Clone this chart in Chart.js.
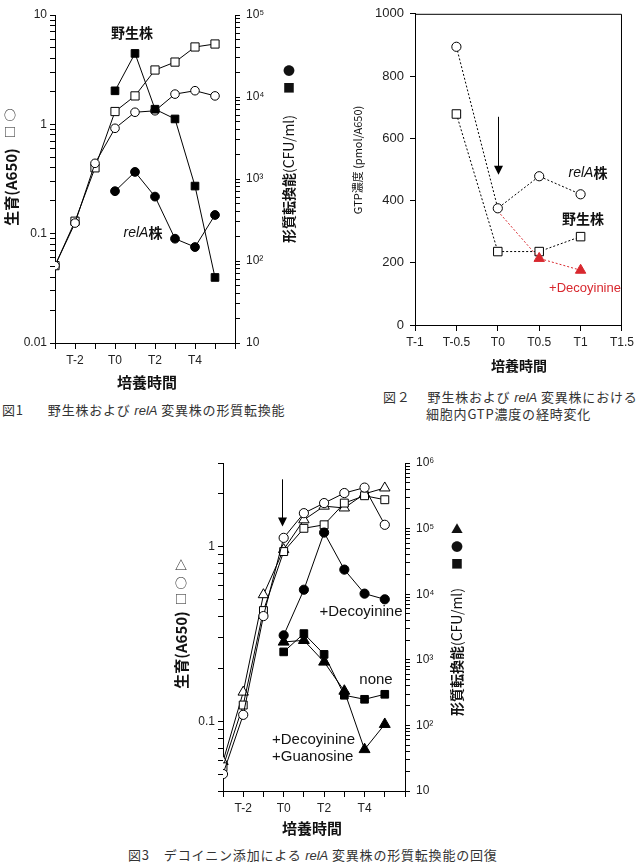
<!DOCTYPE html>
<html>
<head>
<meta charset="utf-8">
<script src="https://cdn.jsdelivr.net/npm/chart.js@4.4.1/dist/chart.umd.min.js"></script>
<style>
  body { margin: 0; background: #fff; width: 638px; height: 864px; position: relative; overflow: hidden; }
  canvas { position: absolute; }
  .cap { position: absolute; font-family: "Noto Sans CJK JP", sans-serif; font-size: 13px; line-height: 16px;
         color: #333; white-space: nowrap; letter-spacing: 0.8px; }
  .cap i { font-family: "Liberation Sans", sans-serif; letter-spacing: 0; }
</style>
</head>
<body>
<canvas id="fig1" width="310" height="395" style="left:0;top:0"></canvas>
<canvas id="fig2" width="298" height="380" style="left:340px;top:0"></canvas>
<canvas id="fig3" width="330" height="405" style="left:150px;top:440px"></canvas>

<div class="cap" style="left:2px;top:402px">図1<span style="margin-left:24px">野生株および <i>relA</i> 変異株の形質転換能</span></div>
<div class="cap" style="left:383px;top:389px">図２<span style="margin-left:17px">野生株および <i>relA</i> 変異株における</span></div>
<div class="cap" style="left:426px;top:406px">細胞内GTP濃度の経時変化</div>
<div class="cap" style="left:128px;top:847px">図3<span style="margin-left:14px">デコイニン添加による <i>relA</i> 変異株の形質転換能の回復</span></div>

<script>
// ---- 図1 : 野生株 / relA株 ----
const hours1 = [-3, -2, -1, 0, 1, 2, 3, 4, 5];
const wtGrowth1 = [0.051, 0.13, 0.40, 1.31, 1.82, 3.14, 3.71, 5.1, 5.43];      // □
const relaGrowth1 = [0.051, 0.125, 0.44, 0.92, 1.29, 1.33, 1.89, 2.03, 1.82];  // ○
const wtTrans1 = [null, null, null, 11900, 34000, 7100, 5400, 820, 63];        // ■
const relaTrans1 = [null, null, null, 710, 1220, 610, 187, 148, 364];          // ●

// ---- 図2 : GTP濃度 ----
const hours2 = [-0.5, 0, 0.5, 1];
const relaGTP = [894, 375, 478, 420];      // ○
const wtGTP = [678, 236, 236, 284];        // □
const decoyGTP = [null, 366, 214, 176];    // ▲ +Decoyinine

// ---- 図3 : デコイニン添加 ----
const hours3 = [-3, -2, -1, 0, 1, 2, 3, 4, 5];
const growthCircle3 = [0.050, 0.109, 0.40, 1.12, 1.55, 1.77, 2.02, 2.17, 1.33];
const growthSquare3 = [0.055, 0.124, 0.43, 0.935, 1.27, 1.33, 1.77, 1.95, 1.85];
const growthTriangle3 = [0.059, 0.147, 0.53, 0.96, 1.42, 1.70, 1.66, 2.0, 2.16];
const transDecoy3 = [null, null, null, 2360, 11700, 87000, 23700, 10200, 8360];   // ●
const transNone3 = [null, null, null, 1320, 2510, 1210, 288, 250, 298];           // ■
const transDecoyGuo3 = [null, null, null, 1870, 1980, 927, 334, 43, 104];         // ▲

// ---- tick labels ----
const timeTicks = [-3, -2, -1, 0, 1, 2, 3, 4, 5, 6];
const timeTickLabels = ['', 'T-2', '', 'T0', '', 'T2', '', 'T4', '', ''];
const timeTicks2 = [-1, -0.5, 0, 0.5, 1, 1.5];
const timeTickLabels2 = ['T-1', 'T-0.5', 'T0', 'T0.5', 'T1', 'T1.5'];
const gtpTicks = [0, 200, 400, 600, 800, 1000];
const growthTicks1 = [0.01, 0.1, 1, 10];
const growthTickLabels1 = ['0.01', '0.1', '1', '10'];
const transTicks1 = [10, 100, 1000, 10000, 100000];
const transTickLabels1 = ['10', '10²', '10³', '10⁴', '10⁵'];
const growthTicks3 = [0.1, 1];
const growthTickLabels3 = ['0.1', '1'];
const transTicks3 = [10, 100, 1000, 10000, 100000, 1000000];
const transTickLabels3 = ['10', '10²', '10³', '10⁴', '10⁵', '10⁶'];

const LAT = '"Liberation Sans", "DejaVu Sans", sans-serif';
const JP = '"Noto Sans CJK JP", sans-serif';
const RED = '#d8282e';

// 1..9 x 10^k minor ticks for a log axis
function decadeTicks(lo, hi) {
  const out = [];
  for (let e = Math.floor(Math.log10(lo)); e <= Math.ceil(Math.log10(hi)); e++) {
    for (let m = 1; m < 10; m++) {
      const v = +(m * Math.pow(10, e)).toPrecision(3);
      if (v >= lo * 0.999 && v <= hi * 1.001) out.push(v);
    }
  }
  return out;
}

function pickLabel(v, ticks, labels) {
  const i = ticks.findIndex(t => Math.abs(Math.log10(t) - Math.log10(v)) < 1e-6);
  return i < 0 ? '' : labels[i];
}

function pts(xs, ys) {
  return xs.map((x, i) => ({ x: x, y: ys[i] }));
}

// texts, arrows and frame drawn on top of the chart
const notesPlugin = {
  id: 'notes',
  afterDraw(chart, args, opts) {
    const ctx = chart.ctx;
    (opts.items || []).forEach(n => {
      const parts = n.parts || [[n.text, n.font]];
      ctx.save();
      ctx.translate(n.x, n.y);
      if (n.rot) ctx.rotate(n.rot * Math.PI / 180);
      ctx.fillStyle = n.color || '#111';
      ctx.textBaseline = 'middle';
      ctx.textAlign = 'left';
      let w = 0;
      parts.forEach(p => { ctx.font = p[1]; w += ctx.measureText(p[0]).width; });
      let x = n.align === 'left' ? 0 : -w / 2;
      parts.forEach(p => { ctx.font = p[1]; ctx.fillText(p[0], x, 0); x += ctx.measureText(p[0]).width; });
      ctx.restore();
    });
    (opts.arrows || []).forEach(a => {
      const x = Math.round(chart.scales.x.getPixelForValue(a.x)) + 0.5;
      const y1 = chart.scales[a.axis].getPixelForValue(a.from);
      const y2 = chart.scales[a.axis].getPixelForValue(a.to);
      ctx.save();
      ctx.strokeStyle = ctx.fillStyle = '#000';
      ctx.lineWidth = 1;
      ctx.beginPath(); ctx.moveTo(x, y1); ctx.lineTo(x, y2 - 6); ctx.stroke();
      ctx.beginPath(); ctx.moveTo(x - 4.5, y2 - 9); ctx.lineTo(x + 4.5, y2 - 9); ctx.lineTo(x, y2); ctx.closePath(); ctx.fill();
      ctx.restore();
    });
    if (opts.box) {
      const a = chart.chartArea;
      ctx.save();
      ctx.strokeStyle = '#000';
      ctx.lineWidth = 1;
      ctx.beginPath();
      ctx.moveTo(a.left, a.top + 0.5); ctx.lineTo(a.right - 0.5, a.top + 0.5); ctx.lineTo(a.right - 0.5, a.bottom);
      ctx.stroke();
      ctx.restore();
    }
  }
};
Chart.register(notesPlugin);

const tickFont = { family: LAT, size: 12 };
const axisGrid = { drawOnChartArea: false, tickLength: 5, color: '#000', lineWidth: 1 };

function timeAxis(ticks, labels, min, max, height) {
  return {
    type: 'linear', min: min, max: max,
    afterFit: s => { s.height = height; },
    afterBuildTicks: s => { s.ticks = ticks.map(v => ({ value: v })); },
    ticks: { autoSkip: false, maxRotation: 0, font: tickFont, color: '#222', padding: 4,
             callback: v => labels[ticks.indexOf(v)] },
    grid: { drawOnChartArea: false, tickLength: 6, color: '#000' },
    border: { color: '#000' }
  };
}

function logAxis(pos, min, max, ticks, labels, width) {
  return {
    type: 'logarithmic', position: pos, min: min, max: max,
    afterFit: s => { s.width = width; },
    afterBuildTicks: s => { s.ticks = decadeTicks(min, max).map(v => ({ value: v })); },
    ticks: { autoSkip: false, font: tickFont, color: '#222', padding: pos === 'left' ? 3 : 6,
             callback: v => pickLabel(v, ticks, labels) },
    grid: axisGrid,
    border: { color: '#000' }
  };
}

function line(data, axis, style, radius, filled, color) {
  const c = color || '#000';
  return {
    data: data, yAxisID: axis,
    borderColor: c, borderWidth: 1,
    pointStyle: style, pointRadius: radius,
    pointBackgroundColor: filled ? c : '#fff',
    pointBorderColor: c, pointBorderWidth: 1,
    tension: 0
  };
}

const baseOpts = {
  responsive: false, animation: false,
  plugins: { legend: { display: false }, tooltip: { enabled: false } }
};

// ---- 図1 ----
new Chart(document.getElementById('fig1'), {
  type: 'line',
  data: {
    datasets: [
      line(pts(hours1, relaTrans1), 'y2', 'circle', 4.4, true),
      line(pts(hours1, wtTrans1), 'y2', 'rect', 5.4, true),
      line(pts(hours1, relaGrowth1), 'y', 'circle', 4.3, false),
      line(pts(hours1, wtGrowth1), 'y', 'rect', 5.8, false)
    ]
  },
  options: Object.assign({}, baseOpts, {
    layout: { padding: { top: 15, left: 0, right: 0, bottom: 0 } },
    scales: {
      x: timeAxis(timeTicks, timeTickLabels, -3, 6, 52),
      y: logAxis('left', 0.01, 10, growthTicks1, growthTickLabels1, 55),
      y2: logAxis('right', 10, 100000, transTicks1, transTickLabels1, 75)
    },
    plugins: Object.assign({}, baseOpts.plugins, {
      notes: {
        items: [
          { parts: [['生育(A650)', 'bold 15px ' + JP]], x: 11, y: 187, rot: -90 },
          { text: '□', font: '12px ' + JP, x: 10, y: 132 },
          { text: '○', font: '12px ' + JP, x: 10, y: 115 },
          { parts: [['形質転換能', 'bold 14px ' + JP], ['(CFU/ml)', '14px ' + JP]], x: 289, y: 179, rot: -90 },
          { text: '■', font: '12px ' + JP, x: 289, y: 88 },
          { text: '●', font: '12px ' + JP, x: 289, y: 71 },
          { text: '培養時間', font: 'bold 15px ' + JP, x: 147, y: 382 },
          { text: '野生株', font: 'bold 14px ' + JP, x: 132, y: 33 },
          { parts: [['relA', 'italic 14px ' + LAT], ['株', 'bold 14px ' + JP]], x: 143, y: 233 }
        ]
      }
    })
  })
});

// ---- 図2 ----
function dotted(ds) { ds.borderDash = [2, 2]; return ds; }
const decoyDs = dotted(line(pts(hours2, decoyGTP), 'y', 'triangle', 6, true, RED));
decoyDs.pointRadius = [0, 0, 6, 6];

new Chart(document.getElementById('fig2'), {
  type: 'line',
  data: {
    datasets: [
      dotted(line(pts(hours2, relaGTP), 'y', 'circle', 4.6, false)),
      decoyDs,
      dotted(line(pts(hours2, wtGTP), 'y', 'rect', 6, false))
    ]
  },
  options: Object.assign({}, baseOpts, {
    layout: { padding: { top: 8, left: 0, right: 13, bottom: 0 } },
    scales: {
      x: timeAxis(timeTicks2, timeTickLabels2, -1, 1.5, 55),
      y: {
        type: 'linear', min: 0, max: 1000,
        afterFit: s => { s.width = 75; },
        afterBuildTicks: s => { s.ticks = gtpTicks.map(v => ({ value: v })); },
        ticks: { autoSkip: false, font: { family: LAT, size: 13 }, color: '#222', padding: 6,
                 callback: v => String(v) },
        grid: axisGrid,
        border: { color: '#000' }
      }
    },
    plugins: Object.assign({}, baseOpts.plugins, {
      notes: {
        box: true,
        arrows: [{ x: 0, axis: 'y', from: 669, to: 483 }],
        items: [
          { text: 'GTP濃度 (pmol/A650)', font: '11px ' + JP, x: 18, y: 160, rot: -90 },
          { text: '培養時間', font: 'bold 14px ' + JP, x: 179, y: 366 },
          { parts: [['relA', 'italic 14px ' + LAT], ['株', 'bold 14px ' + JP]], x: 248, y: 173 },
          { text: '野生株', font: 'bold 14px ' + JP, x: 243, y: 219 },
          { text: '+Decoyinine', font: '13px ' + LAT, color: RED, x: 245, y: 288 }
        ]
      }
    })
  })
});

// ---- 図3 ----
new Chart(document.getElementById('fig3'), {
  type: 'line',
  data: {
    datasets: [
      line(pts(hours3, transDecoyGuo3), 'y2', 'triangle', 6.3, true),
      line(pts(hours3, transNone3), 'y2', 'rect', 5.4, true),
      line(pts(hours3, transDecoy3), 'y2', 'circle', 4.6, true),
      line(pts(hours3, growthCircle3), 'y', 'circle', 4.6, false),
      line(pts(hours3, growthSquare3), 'y', 'rect', 5.6, false),
      line(pts(hours3, growthTriangle3), 'y', 'triangle', 6, false)
    ]
  },
  options: Object.assign({}, baseOpts, {
    layout: { padding: { top: 23, left: 0, right: 0, bottom: 0 } },
    scales: {
      x: timeAxis(timeTicks, timeTickLabels, -3, 6, 54),
      y: logAxis('left', 0.04, 3, growthTicks3, growthTickLabels3, 73),
      y2: logAxis('right', 10, 1000000, transTicks3, transTickLabels3, 75)
    },
    plugins: Object.assign({}, baseOpts.plugins, {
      notes: {
        arrows: [{ x: -0.08, axis: 'y', from: 2.42, to: 1.3 }],
        items: [
          { text: '生育(A650)', font: 'bold 15px ' + JP, x: 31, y: 210, rot: -90 },
          { text: '△', font: '12px ' + JP, x: 31, y: 125 },
          { text: '○', font: '12px ' + JP, x: 31, y: 143 },
          { text: '□', font: '12px ' + JP, x: 31, y: 159 },
          { parts: [['形質転換能', 'bold 14px ' + JP], ['(CFU/ml)', '14px ' + JP]], x: 307, y: 212, rot: -90 },
          { text: '▲', font: '12px ' + JP, x: 307, y: 89 },
          { text: '●', font: '12px ' + JP, x: 307, y: 107 },
          { text: '■', font: '12px ' + JP, x: 307, y: 124 },
          { text: '培養時間', font: 'bold 15px ' + JP, x: 162, y: 388 },
          { text: '+Decoyinine', font: '15px ' + LAT, x: 211, y: 172 },
          { text: 'none', font: '15px ' + LAT, x: 226, y: 240 },
          { text: '+Decoyinine', font: '15px ' + LAT, x: 122, y: 300, align: 'left' },
          { text: '+Guanosine', font: '15px ' + LAT, x: 122, y: 317, align: 'left' }
        ]
      }
    })
  })
});
</script>
</body>
</html>
